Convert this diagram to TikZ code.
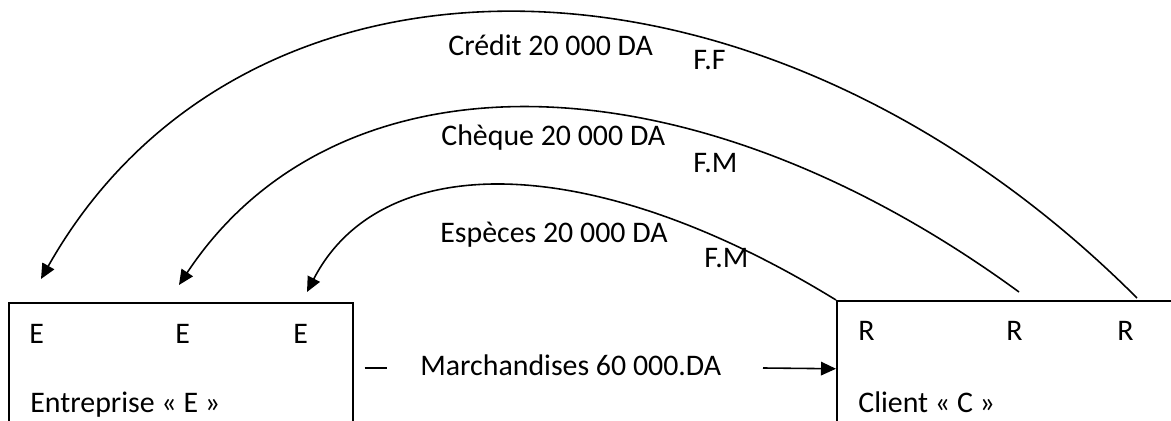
\documentclass[tikz,border=0pt]{standalone}
\usepackage{fontspec}
\setmainfont{Carlito}
\usetikzlibrary{arrows.meta, positioning}
\tikzset{>={Triangle[length=0.3cm,width=0.27cm]}}

\begin{document}
\begin{tikzpicture}[x=0.02cm, y=-0.02cm, font=\fontsize{17}{20}\selectfont,
  txt/.style={inner sep=0, anchor=base west},
  compte/.style={draw, line width=0.9pt, inner sep=0, minimum height=2.72cm, anchor=north west},
  flux/.style={->, line width=0.9pt}]
\useasboundingbox (0,0) rectangle (1171,421);
\clip (0,0) rectangle (1171,421);

% les deux comptes
\node[compte, minimum width=6.88cm] (ent) at (8,302) {};
\node[compte, minimum width=7.4cm] (cli) at (836,300) {};

\node[txt] (e1) at (29,344){E};
\node[txt] (e2) at (175,344){E};
\node[txt] (e3) at (293,344){E};
\node[txt] (entnom) at (30,413){Entreprise « E »};

\node[txt] (r1) at (858,341){R};
\node[txt] (r2) at (1006,341){R};
\node[txt] (r3) at (1117,341){R};
\node[txt] (clinom) at (858,413){Client « C »};

% flux reel
\node[txt] (march) at (420,376){Marchandises 60 000.DA};
\draw[line width=0.9pt] (ent.east) ++(11,-3) -- ++(22,0);
\coordinate (mdeb) at (763,368);
\draw[flux] (mdeb) -- (cli.west);

% flux monetaires
\coordinate (credR) at (1137,298);
\coordinate (credE) at (41,279);
\coordinate (cheqR) at (1019,292);
\coordinate (cheqE) at (179,285);
\coordinate (espE) at (307,292);

\draw[flux] (credR) .. controls (760,-79) and (243,-79) .. (credE);
\draw[flux] (cheqR) .. controls (685,48) and (336,48) .. (cheqE);
\draw[flux] (cli.north west) .. controls (590,149) and (381,149) .. (espE);

\node[txt] (cred) at (448,56){Crédit 20 000 DA};
\node[txt] (ff) at (693,70){F.F};
\node[txt] (cheq) at (441,146){Chèque 20 000 DA};
\node[txt] (fm1) at (693,173){F.M};
\node[txt] (esp) at (440,243){Espèces 20 000 DA};
\node[txt] (fm2) at (704,268){F.M};
\end{tikzpicture}
\end{document}
